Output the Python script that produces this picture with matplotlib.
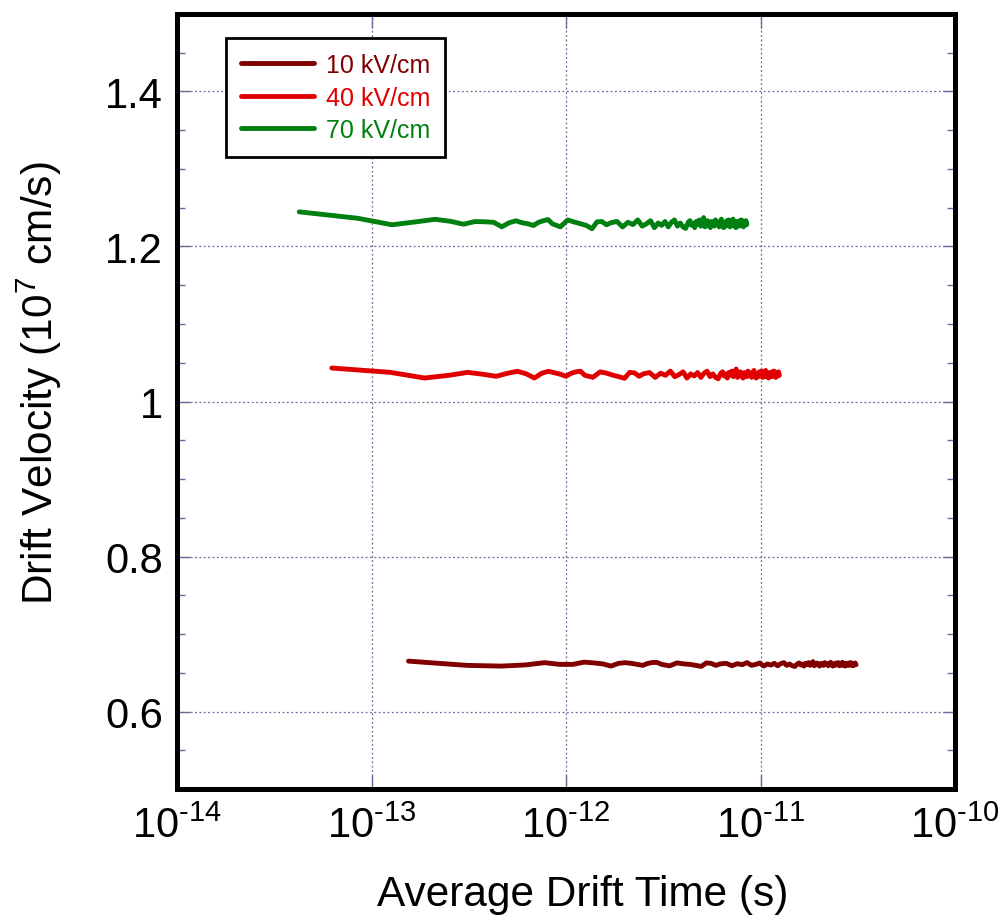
import math
import matplotlib
matplotlib.use("Agg")
import matplotlib.pyplot as plt
from matplotlib.ticker import FixedLocator, MultipleLocator, FuncFormatter, NullLocator

plt.rcParams['font.family'] = ['Liberation Sans', 'DejaVu Sans']
plt.rcParams['mathtext.fontset'] = 'custom'
plt.rcParams['mathtext.rm'] = 'Liberation Sans'
plt.rcParams['mathtext.it'] = 'Liberation Sans:italic'

# average drift time (ps) and drift velocity (1e7 cm/s) for each field
t_10 = [0.155, 0.31, 0.465, 0.62, 0.775, 0.93, 1.085, 1.24, 1.395, 1.55,
        1.705, 1.86, 2.015, 2.17, 2.325, 2.48, 2.635, 2.79, 2.945, 3.1,
        3.41, 3.72, 4.03, 4.34, 4.65, 4.96, 5.27, 5.58, 5.89, 6.2,
        6.665, 7.13, 7.595, 8.06, 8.525, 8.99, 9.455, 9.92, 10.385, 10.85,
        11.315, 11.78, 12.245, 12.71, 13.175, 13.64, 14.105, 14.57, 15.035, 15.5,
        15.81, 16.12, 16.43, 16.74, 17.05, 17.36, 17.67, 17.98, 18.29, 18.6,
        18.91, 19.22, 19.53, 19.84, 20.15, 20.46, 20.77, 21.08, 21.39, 21.7,
        22.01, 22.32, 22.63, 22.94, 23.25, 23.56, 23.87, 24.18, 24.49, 24.8,
        25.11, 25.42, 25.73, 26.04, 26.35, 26.66, 26.97, 27.28, 27.59, 27.9,
        28.21, 28.52, 28.83, 29.14, 29.45, 29.76, 30.07, 30.38, 30.69, 31.0]
v_10 = [0.6650, 0.6595, 0.6586, 0.6601, 0.6630, 0.6608, 0.6608, 0.6637, 0.6627, 0.6614,
        0.6586, 0.6621, 0.6630, 0.6621, 0.6608, 0.6595, 0.6621, 0.6633, 0.6633, 0.6608,
        0.6589, 0.6627, 0.6614, 0.6608, 0.6595, 0.6582, 0.6627, 0.6621, 0.6595, 0.6614,
        0.6622, 0.6590, 0.6617, 0.6604, 0.6631, 0.6595, 0.6608, 0.6626, 0.6586, 0.6613,
        0.6599, 0.6622, 0.6590, 0.6617, 0.6631, 0.6595, 0.6613, 0.6590, 0.6581, 0.6617,
        0.6626, 0.6599, 0.6613, 0.6586, 0.6622, 0.6604, 0.6631, 0.6595, 0.6617, 0.6644,
        0.6590, 0.6613, 0.6626, 0.6599, 0.6586, 0.6622, 0.6608, 0.6595, 0.6631, 0.6604,
        0.6617, 0.6590, 0.6622, 0.6635, 0.6599, 0.6586, 0.6617, 0.6595, 0.6626, 0.6604,
        0.6631, 0.6590, 0.6613, 0.6599, 0.6635, 0.6595, 0.6617, 0.6586, 0.6622, 0.6608,
        0.6595, 0.6626, 0.6599, 0.6631, 0.6604, 0.6590, 0.6622, 0.6599, 0.6626, 0.6604]

t_40 = [0.0625, 0.125, 0.1875, 0.25, 0.3125, 0.375, 0.4375, 0.5, 0.5625, 0.625,
        0.6875, 0.75, 0.8125, 0.875, 0.9375, 1.0, 1.0625, 1.125, 1.1875, 1.25,
        1.375, 1.5, 1.625, 1.75, 1.875, 2.0, 2.125, 2.25, 2.375, 2.5,
        2.6875, 2.875, 3.0625, 3.25, 3.4375, 3.625, 3.8125, 4.0, 4.1875, 4.375,
        4.5625, 4.75, 4.9375, 5.125, 5.3125, 5.5, 5.6875, 5.875, 6.0625, 6.25,
        6.375, 6.5, 6.625, 6.75, 6.875, 7.0, 7.125, 7.25, 7.375, 7.5,
        7.625, 7.75, 7.875, 8.0, 8.125, 8.25, 8.375, 8.5, 8.625, 8.75,
        8.875, 9.0, 9.125, 9.25, 9.375, 9.5, 9.625, 9.75, 9.875, 10.0,
        10.125, 10.25, 10.375, 10.5, 10.625, 10.75, 10.875, 11.0, 11.125, 11.25,
        11.375, 11.5, 11.625, 11.75, 11.875, 12.0, 12.125, 12.25, 12.375, 12.5]
v_40 = [1.0432, 1.0376, 1.0303, 1.0338, 1.0376, 1.0351, 1.0325, 1.0364, 1.0390, 1.0357,
        1.0303, 1.0364, 1.0390, 1.0370, 1.0351, 1.0325, 1.0364, 1.0383, 1.0390, 1.0338,
        1.0312, 1.0383, 1.0364, 1.0338, 1.0319, 1.0299, 1.0376, 1.0370, 1.0325, 1.0357,
        1.0374, 1.0311, 1.0365, 1.0338, 1.0392, 1.0320, 1.0347, 1.0383, 1.0302, 1.0356,
        1.0329, 1.0374, 1.0311, 1.0365, 1.0392, 1.0320, 1.0356, 1.0311, 1.0293, 1.0365,
        1.0383, 1.0329, 1.0356, 1.0302, 1.0374, 1.0338, 1.0392, 1.0320, 1.0365, 1.0419,
        1.0311, 1.0356, 1.0383, 1.0329, 1.0302, 1.0374, 1.0347, 1.0320, 1.0392, 1.0338,
        1.0365, 1.0311, 1.0374, 1.0401, 1.0329, 1.0302, 1.0365, 1.0320, 1.0383, 1.0338,
        1.0392, 1.0311, 1.0356, 1.0329, 1.0401, 1.0320, 1.0365, 1.0302, 1.0374, 1.0347,
        1.0320, 1.0383, 1.0329, 1.0392, 1.0338, 1.0311, 1.0374, 1.0329, 1.0383, 1.0338]

t_70 = [0.0425, 0.085, 0.1275, 0.17, 0.2125, 0.255, 0.2975, 0.34, 0.3825, 0.425,
        0.4675, 0.51, 0.5525, 0.595, 0.6375, 0.68, 0.7225, 0.765, 0.8075, 0.85,
        0.935, 1.02, 1.105, 1.19, 1.275, 1.36, 1.445, 1.53, 1.615, 1.70,
        1.8275, 1.955, 2.0825, 2.21, 2.3375, 2.465, 2.5925, 2.72, 2.8475, 2.975,
        3.1025, 3.23, 3.3575, 3.485, 3.6125, 3.74, 3.8675, 3.995, 4.1225, 4.25,
        4.335, 4.42, 4.505, 4.59, 4.675, 4.76, 4.845, 4.93, 5.015, 5.1,
        5.185, 5.27, 5.355, 5.44, 5.525, 5.61, 5.695, 5.78, 5.865, 5.95,
        6.035, 6.12, 6.205, 6.29, 6.375, 6.46, 6.545, 6.63, 6.715, 6.8,
        6.885, 6.97, 7.055, 7.14, 7.225, 7.31, 7.395, 7.48, 7.565, 7.65,
        7.735, 7.82, 7.905, 7.99, 8.075, 8.16, 8.245, 8.33, 8.415, 8.5]
v_70 = [1.2447, 1.2364, 1.2280, 1.2319, 1.2351, 1.2325, 1.2287, 1.2322, 1.2319, 1.2312,
        1.2254, 1.2306, 1.2332, 1.2306, 1.2293, 1.2271, 1.2312, 1.2332, 1.2348, 1.2293,
        1.2254, 1.2342, 1.2315, 1.2293, 1.2271, 1.2229, 1.2319, 1.2322, 1.2280, 1.2306,
        1.2323, 1.2253, 1.2313, 1.2283, 1.2343, 1.2263, 1.2293, 1.2333, 1.2243, 1.2303,
        1.2273, 1.2323, 1.2253, 1.2313, 1.2343, 1.2263, 1.2303, 1.2253, 1.2233, 1.2313,
        1.2333, 1.2273, 1.2303, 1.2243, 1.2323, 1.2283, 1.2343, 1.2263, 1.2313, 1.2373,
        1.2253, 1.2303, 1.2333, 1.2273, 1.2243, 1.2323, 1.2293, 1.2263, 1.2343, 1.2283,
        1.2313, 1.2253, 1.2323, 1.2353, 1.2273, 1.2243, 1.2313, 1.2263, 1.2333, 1.2283,
        1.2343, 1.2253, 1.2303, 1.2273, 1.2353, 1.2263, 1.2313, 1.2243, 1.2323, 1.2293,
        1.2263, 1.2333, 1.2273, 1.2343, 1.2283, 1.2253, 1.2323, 1.2273, 1.2333, 1.2283]

labels = ['10 kV/cm', '40 kV/cm', '70 kV/cm']
colors = ['#800000', '#e00000', '#008010']

fig = plt.figure(figsize=(10, 9.2), dpi=100)
ax = fig.add_axes([0.177, 0.1413, 0.778, 0.8424])

series = [(t_10, v_10), (t_40, v_40), (t_70, v_70)]
for (t, v), lab, c in zip(series, labels, colors):
    ax.plot([x * 1e-12 for x in t], v, color=c, lw=3.5, label=lab,
            solid_joinstyle='round', solid_capstyle='round')

ax.set_xscale('log')
ax.set_xlim(1e-14, 1e-10)
ax.set_ylim(0.5, 1.5)


def decade_label(x, pos):
    return r'$\mathregular{10^{\text{%d}}}$' % round(math.log10(x))


ax.xaxis.set_major_locator(FixedLocator([1e-14, 1e-13, 1e-12, 1e-11, 1e-10]))
ax.xaxis.set_minor_locator(NullLocator())
ax.xaxis.set_major_formatter(FuncFormatter(decade_label))
ax.yaxis.set_major_locator(FixedLocator([0.6, 0.8, 1.0, 1.2, 1.4]))
ax.yaxis.set_major_formatter(FuncFormatter(lambda y, p: '1' if abs(y - 1) < 1e-9 else '%g' % y))
ax.yaxis.set_minor_locator(MultipleLocator(0.05))

tick_col = '#6a6a9a'
ax.tick_params(which='both', direction='in', top=True, right=True, color=tick_col,
               labelsize=30, width=1.0)
ax.tick_params(axis='y', which='major', length=9, pad=10)
ax.tick_params(axis='y', which='minor', length=6)
ax.tick_params(axis='x', which='major', length=10, pad=12)

ax.grid(True, which='major', color=tick_col, linestyle=(0, (1.5, 2)), linewidth=0.9)

for s in ax.spines.values():
    s.set_linewidth(3.6)

ax.set_xlabel('Average Drift Time (s)', fontsize=30.5, labelpad=20)
ax.set_ylabel(r'Drift Velocity (10$^{\mathregular{7}}$ cm/s)', fontsize=30.5, labelpad=30)
ax.xaxis.label.set_x(0.522)
ax.yaxis.label.set_y(0.525)

leg = ax.legend(loc='upper left', bbox_to_anchor=(0.063, 0.969), fontsize=18,
                frameon=True, fancybox=False, framealpha=1.0, handlelength=2.9,
                handletextpad=0.5, labelspacing=0.34, borderpad=0.6, borderaxespad=0)
leg.get_frame().set_edgecolor('black')
leg.get_frame().set_linewidth(2.0)
for txt, c in zip(leg.get_texts(), colors):
    txt.set_color(c)

fig.savefig('out.png', dpi=100)
